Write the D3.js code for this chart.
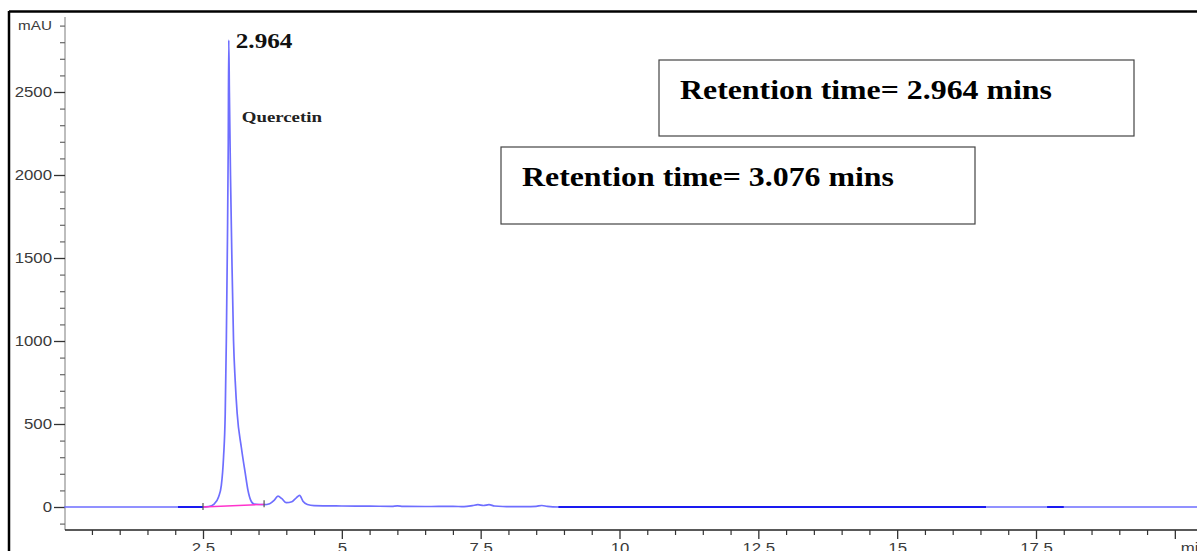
<!DOCTYPE html>
<html>
<head>
<meta charset="utf-8">
<script src="https://cdn.jsdelivr.net/npm/d3@7"></script>
<style>
  html, body { margin: 0; padding: 0; background: #fff; }
  svg { display: block; }
  .sans { font-family: "Liberation Sans", Arial, sans-serif; }
  .serif { font-family: "Liberation Serif", "Times New Roman", serif; font-weight: bold; }
</style>
</head>
<body>
<svg id="chart" width="1197" height="551"></svg>
<script>
// Chromatogram trace: retention time (min) and detector response (mAU)
const retentionTime = [
  0, 1.0, 2.0, 2.5, 2.6, 2.7, 2.78, 2.83, 2.87, 2.90, 2.92, 2.94, 2.955,
  2.964, 2.975, 2.995, 3.02, 3.05, 3.08, 3.115, 3.19, 3.26, 3.31, 3.36, 3.42,
  3.6, 3.7, 3.78, 3.85, 3.92, 4.0, 4.1, 4.18, 4.24, 4.3, 4.38, 4.5,
  5.0, 5.5, 5.9, 6.0, 6.1, 6.5, 7.0, 7.2, 7.35, 7.45, 7.55, 7.65, 7.75, 7.9,
  8.3, 8.5, 8.6, 8.7, 8.9, 12.0, 16.6, 20.4
];
const absorbance = [
  0, 0, 0, 0, 3, 18, 60, 130, 300, 560, 1000, 1600, 2200,
  2813, 2500, 2000, 1500, 1000, 760, 565, 360, 205, 100, 40, 18,
  14, 20, 40, 66, 50, 26, 32, 55, 70, 35, 15, 8,
  6, 5, 4, 7, 4, 3, 4, 2, 8, 14, 9, 14, 6, 3,
  2, 4, 9, 4, 0, 0, 0, 0
];

// Integrated peak
const peakTime = 2.964;
const peakName = "Quercetin";
const baselineTimes = [2.5, 3.6];
const baselineValues = [0, 16];

// Stretches of trace drawn in the darker blue
const darkStart = [2.05, 8.9, 17.7];
const darkEnd = [2.5, 16.6, 18.0];

// Axis ticks
const xMajorTicks = [2.5, 5, 7.5, 10, 12.5, 15, 17.5, 20];
const xTickLabels = ["2.5", "5", "7.5", "10", "12.5", "15", "17.5", ""];
const yMajorTicks = [0, 500, 1000, 1500, 2000, 2500];
const yTickLabels = ["0", "500", "1000", "1500", "2000", "2500"];
const xUnit = "min";
const yUnit = "mAU";

// Annotation boxes
const boxTexts = ["Retention time= 2.964 mins", "Retention time= 3.076 mins"];

const svg = d3.select("#chart");
const stretch = 1.2;

const x = d3.scaleLinear().domain([2.5, 17.5]).range([203, 1036]);
const y = d3.scaleLinear().domain([0, 2500]).range([507, 92]);

const plotLeft = 65, plotBottom = 530, plotTop = 17, plotRight = 1197;

// Outer frame (left and top edges)
svg.append("line").attr("x1", 9).attr("x2", 9).attr("y1", 11).attr("y2", 551)
  .attr("stroke", "#000").attr("stroke-width", 2.5);
svg.append("line").attr("x1", 9).attr("x2", 1197).attr("y1", 11.5).attr("y2", 11.5)
  .attr("stroke", "#000").attr("stroke-width", 2.5);

// Y axis
const yMinor = d3.range(-100, 3000, 100).filter(v => v % 500 !== 0);
const yAxisG = svg.append("g").attr("transform", `translate(${plotLeft},0)`);
yAxisG.append("line").attr("x1", 0).attr("x2", 0).attr("y1", plotTop).attr("y2", plotBottom)
  .attr("stroke", "#9a9a9a").attr("stroke-width", 1.3);
yAxisG.append("g")
  .call(d3.axisLeft(y).tickValues(yMinor).tickSize(5).tickFormat(""))
  .call(g => g.select(".domain").remove())
  .call(g => g.selectAll("line").attr("stroke", "#666").attr("stroke-width", 1.2));
yAxisG.append("g")
  .call(d3.axisLeft(y).tickValues(yMajorTicks).tickSize(11).tickPadding(0)
    .tickFormat((d, i) => yTickLabels[i]))
  .call(g => g.select(".domain").remove())
  .call(g => g.selectAll("line").attr("stroke", "#333").attr("stroke-width", 1.3))
  .call(g => g.selectAll("text")
    .attr("class", "sans").attr("font-size", 14).attr("fill", "#3a3a3a")
    .attr("x", -10.8).attr("transform", `scale(${stretch},1)`));
svg.append("text").attr("class", "sans").attr("font-size", 12.5).attr("fill", "#3a3a3a")
  .attr("text-anchor", "end")
  .attr("transform", `translate(52,30) scale(1.22,1)`)
  .text(yUnit);

// X axis
const xMinor = d3.range(0.5, 20.5, 0.5).filter(v => !xMajorTicks.includes(v));
const xAxisG = svg.append("g").attr("transform", `translate(0,${plotBottom})`);
xAxisG.append("line").attr("x1", plotLeft).attr("x2", plotRight).attr("y1", 0).attr("y2", 0)
  .attr("stroke", "#222").attr("stroke-width", 1.6);
xAxisG.append("g")
  .call(d3.axisBottom(x).tickValues(xMinor).tickSize(5).tickFormat(""))
  .call(g => g.select(".domain").remove())
  .call(g => g.selectAll("line").attr("stroke", "#333").attr("stroke-width", 1.2));
xAxisG.append("g")
  .call(d3.axisBottom(x).tickValues(xMajorTicks).tickSize(9).tickPadding(4)
    .tickFormat((d, i) => xTickLabels[i]))
  .call(g => g.select(".domain").remove())
  .call(g => g.selectAll("line").attr("stroke", "#333").attr("stroke-width", 1.3))
  .call(g => g.selectAll("text")
    .attr("class", "sans").attr("font-size", 14).attr("fill", "#3a3a3a")
    .attr("transform", `scale(${stretch},1)`));
svg.append("text").attr("class", "sans").attr("font-size", 14).attr("fill", "#3a3a3a")
  .attr("transform", `translate(${x(20) + 6},553) scale(${stretch},1)`)
  .text(xUnit);

// Trace
const trace = retentionTime.map((t, i) => ({ t, v: absorbance[i] }));
const line = d3.line().x(d => x(d.t)).y(d => y(d.v)).curve(d3.curveMonotoneX);

const defs = svg.append("defs");
const clip = defs.append("clipPath").attr("id", "darkParts");
clip.selectAll("rect").data(darkStart).join("rect")
  .attr("x", (d) => x(d)).attr("width", (d, i) => x(darkEnd[i]) - x(d))
  .attr("y", 0).attr("height", 551);

svg.append("path").datum(trace).attr("d", line)
  .attr("fill", "none").attr("stroke", "#6e6eff").attr("stroke-width", 1.7)
  .attr("stroke-linejoin", "round");
svg.append("path").datum(trace).attr("d", line)
  .attr("fill", "none").attr("stroke", "#1a1af0").attr("stroke-width", 1.8)
  .attr("clip-path", "url(#darkParts)");

// Integration baseline and its end markers
svg.append("line")
  .attr("x1", x(baselineTimes[0])).attr("y1", y(baselineValues[0]))
  .attr("x2", x(baselineTimes[1])).attr("y2", y(baselineValues[1]))
  .attr("stroke", "#ff33cc").attr("stroke-width", 1.4);
svg.selectAll(".mark").data(baselineTimes).join("line").attr("class", "mark")
  .attr("x1", d => x(d)).attr("x2", d => x(d))
  .attr("y1", (d, i) => y(baselineValues[i]) - 4).attr("y2", (d, i) => y(baselineValues[i]) + 3)
  .attr("stroke", "#555").attr("stroke-width", 1.2);

// Peak labels
const apexValue = absorbance[retentionTime.indexOf(peakTime)];
svg.append("text").attr("class", "serif").attr("font-size", 21).attr("fill", "#111")
  .attr("transform", `translate(${x(peakTime) + 7},${y(apexValue) + 8}) scale(${stretch},1)`)
  .text(peakTime.toFixed(3));
svg.append("text").attr("class", "serif").attr("font-size", 14.5).attr("fill", "#222")
  .attr("transform", `translate(${x(peakTime) + 13},122) scale(1.3,1)`)
  .text(peakName);

// Annotation boxes
const boxX = [659, 501], boxY = [60, 147], boxW = [475, 474], boxH = [76, 77];
const boxes = svg.selectAll(".box").data(boxTexts).join("g").attr("class", "box");
boxes.append("rect")
  .attr("x", (d, i) => boxX[i]).attr("y", (d, i) => boxY[i])
  .attr("width", (d, i) => boxW[i]).attr("height", (d, i) => boxH[i])
  .attr("fill", "#fff").attr("stroke", "#444").attr("stroke-width", 1.2);
boxes.append("text").attr("class", "serif").attr("font-size", 27).attr("fill", "#000")
  .attr("transform", (d, i) => `translate(${boxX[i] + 21},${boxY[i] + 39}) scale(1.18,1)`)
  .text(d => d);
</script>
</body>
</html>
